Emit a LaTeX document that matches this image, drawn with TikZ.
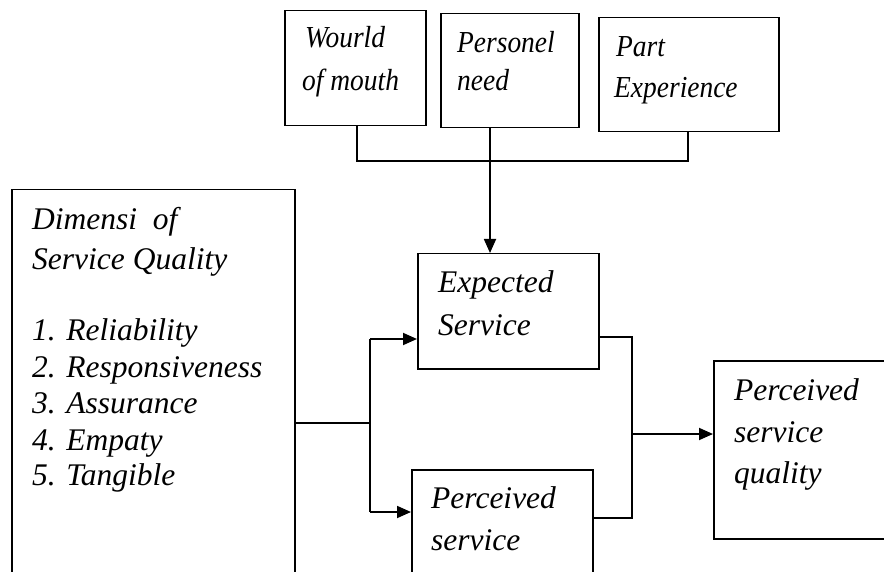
\documentclass[tikz,border=0pt]{standalone}
\usepackage{fontspec}
\setmainfont{Liberation Serif}
\usetikzlibrary{arrows.meta}
\newcommand{\narrowtxt}[1]{\scalebox{0.9}[1]{#1}}
\begin{document}
\begin{tikzpicture}[x=1pt,y=-1pt,
  box/.style={draw, line width=1.5pt, rectangle, anchor=north west, inner sep=0pt},
  txt/.style={anchor=base west, inner sep=0pt, font=\fontsize{31.5}{42}\selectfont\itshape, align=left},
  toptxt/.style={txt, font=\fontsize{30.5}{40}\selectfont\itshape},
  conn/.style={line width=1.5pt},
  arr/.style={line width=1.8pt, -{Triangle[length=14pt,width=12pt]}}]
\useasboundingbox (0,0) rectangle (884,572);
\clip (0,0) rectangle (884,572);
% boxes
\node[box, minimum width=141pt, minimum height=115pt] (wom) at (284,10) {};
\node[box, minimum width=138pt, minimum height=114pt] (pn) at (440,13) {};
\node[box, minimum width=180pt, minimum height=114pt] (pe) at (598,17) {};
\node[box, minimum width=283pt, minimum height=420pt] (dim) at (11,189) {};
\node[box, minimum width=181pt, minimum height=115pt] (ex) at (417,253) {};
\node[box, minimum width=181pt, minimum height=140pt] (ps) at (411,469) {};
\node[box, minimum width=200pt, minimum height=178pt] (psq) at (713,360) {};
% texts
\node[toptxt] (t1) at (305,48) {\narrowtxt{Wourld}};
\node[toptxt] (t1b) at (302,91) {\narrowtxt{of mouth}};
\node[toptxt] (t2) at (457,53) {\narrowtxt{Personel}};
\node[toptxt] (t2b) at (457,91) {\narrowtxt{need}};
\node[toptxt] (t3) at (616,57) {\narrowtxt{Part}};
\node[toptxt] (t3b) at (614,98) {\narrowtxt{Experience}};
\node[txt] (t4) at (32,230) {Dimensi\ \ of};
\node[txt] (t4b) at (32,270) {Service Quality};
\node[txt] (t5) at (32,340) {1. Reliability};
\node[txt] (t6) at (32,377) {2. Responsiveness};
\node[txt] (t7) at (32,413) {3. Assurance};
\node[txt] (t8) at (32,450) {4. Empaty};
\node[txt] (t9) at (32,485) {5. Tangible};
\node[txt] (t10) at (438,292) {Expected};
\node[txt] (t10b) at (438,335) {Service};
\node[txt] (t11) at (431,508) {Perceived};
\node[txt] (t11b) at (431,550) {service};
\node[txt] (t12) at (734,400) {Perceived};
\node[txt] (t12b) at (734,442) {service};
\node[txt] (t12c) at (734,483) {quality};
% connectors
\coordinate (j) at (490,161);
\coordinate (jl) at (357,161);
\coordinate (jr) at (688,161);
\draw[conn] (wom.south -| jl) -- (jl) -- (jr) -- (pe.south -| jr);
\draw[arr] (pn.south -| j) -- (ex.north -| j);
\coordinate (s) at (370,423);
\coordinate (s1) at (370,339);
\coordinate (s2) at (370,512);
\draw[conn] (dim.east |- s) -- (s);
\draw[conn] (s1) -- (s2);
\draw[arr] (s1) -- (ex.west |- s1);
\draw[arr] (s2) -- (ps.west |- s2);
\coordinate (r1) at (632,337);
\coordinate (r2) at (632,518);
\coordinate (rm) at (632,434);
\draw[conn] (ex.east |- r1) -- (r1) -- (r2) -- (ps.east |- r2);
\draw[arr] (rm) -- (psq.west |- rm);
\end{tikzpicture}
\end{document}
